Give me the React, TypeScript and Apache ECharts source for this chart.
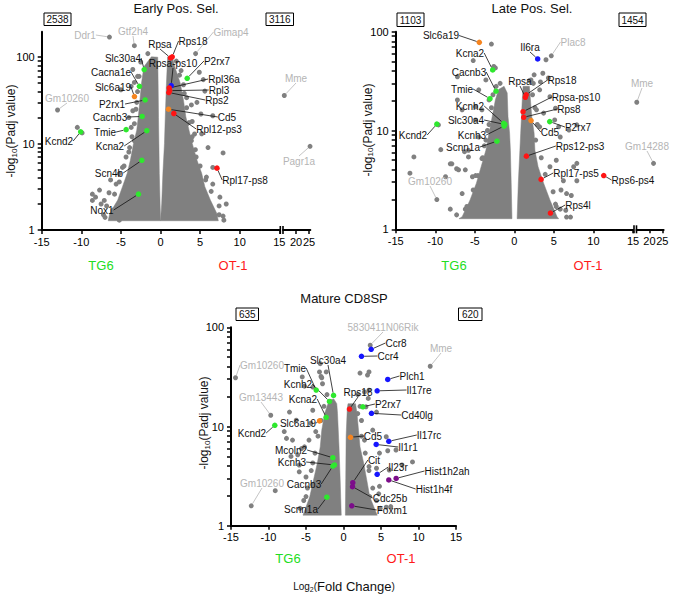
import React, { useEffect, useRef } from 'react';
import * as echarts from 'echarts';

type P = [number, number];

const FONT = '"Liberation Sans", Arial, Helvetica, sans-serif';
const GRAY = '#808080';
const LABEL_GRAY = '#b5b5b5';
const COLORS: Record<string, string> = {
  green: '#2ee82e',
  red: '#ff1414',
  orange: '#f5841f',
  blue: '#1515ff',
  purple: '#7c0c8a',
};

// ---------- shared tick labels ----------
const xTicksFar = [20, 25];
const yMajor = [1, 10, 100];

// ================= Early Pos. Sel. =================
const earlyCoreLeft: P[] = [[-6.6, 1.28], [-6.4, 1.56], [-5.4, 2.22], [-4.8, 3.17], [-4.2, 4.53], [-3.8, 6.45], [-3.4, 10.1], [-3.0, 14.3], [-2.8, 20.4], [-2.6, 31.8], [-2.4, 49.9], [-2.1, 77.6], [-1.15, 101], [-0.35, 100], [-0.3, 50], [-0.25, 20], [-0.2, 10], [-0.15, 4.5], [-0.05, 2], [0, 1.28]];
const earlyCoreRight: P[] = [[0, 1.28], [0.15, 2], [0.3, 4.5], [0.5, 10], [0.6, 20], [0.75, 50], [0.9, 101], [1.5, 101], [1.8, 77.6], [2.5, 49.9], [2.9, 31.8], [3.2, 20.4], [3.6, 14.3], [4.0, 10.1], [4.6, 6.45], [5.2, 4.53], [5.6, 3.17], [6.3, 2.22], [7.1, 1.56], [7.3, 1.28]];
const earlyGray: P[] = [
  [-10.5, 15.4], [-9.9, 13.3], [-3.5, 72], [-3.3, 51], [-5.0, 42], [-3.7, 46],
  [-8.2, 2.4], [-7.7, 2.9], [-7.1, 2.2], [-6.5, 2.7], [-5.6, 3.4], [-5.2, 4.5], [-4.35, 7], [-3.9, 9], [-4.8, 5.3], [-6.3, 3.8], [-8.6, 2.2], [-7.5, 2.0], [-3.7, 15.4], [-3.5, 24], [-3.3, 10.8], [-6.0, 1.7], [-5.2, 1.3], [-4.4, 2.2], [-8.6, 2.6], [-3.0, 30], [-2.9, 60], [-4.0, 20], [-6.0, 1.4], [-7.2, 1.5],
  [-4.0, 8], [-3.6, 12], [-3.3, 17], [-3.1, 25], [-2.9, 40], [-2.7, 60], [-4.6, 5.5], [-5.2, 3.6], [-5.8, 2.6], [-6.8, 1.9], [-7.0, 1.4], [-2.5, 88], [-1.6, 110],
  [7.9, 7.8], [6.6, 5.3], [4.5, 7], [5.8, 4.1], [6.6, 3.4], [7.5, 2.4], [8.3, 2.0], [5.0, 2.9], [5.4, 2.0], [3.9, 10.8], [3.3, 16.8], [4.3, 12.9], [6.2, 1.7], [5.0, 1.4], [4.9, 67], [5.4, 55], [3.3, 34], [6.6, 21], [5.1, 22], [4.0, 18], [5.6, 40.5], [2.6, 70], [3.9, 28], [4.6, 30], [2.9, 48], [7.4, 1.5], [8.0, 1.3], [6.0, 9], [5.2, 13],
  [4.4, 8.5], [4.0, 12], [3.6, 17.5], [3.3, 26], [3.0, 38], [2.4, 62], [5.0, 5.5], [5.7, 3.8], [6.4, 2.8], [7.4, 1.9], [7.9, 1.45], [2.0, 90],
];
const earlyGenes = ['Rpsa', 'Rps18', 'Rpsa-ps10', 'P2rx7', 'Rpl36a', 'Rpl3', 'Rps2', 'Cd5', 'Rpl12-ps3', 'Rpl17-ps8', 'Slc30a4', 'Cacna1e', 'Slc6a19', 'P2rx1', 'Cacnb3', 'Tmie', 'Kcna2', 'Kcnd2', 'Scn4b', 'Nox1'];
const earlyFC = [1.27, 1.48, 1.35, 3.37, 1.1, 1.15, 1.05, 1.01, 1.68, 7.13, -2.06, -2.66, -3.29, -1.94, -2.32, -4.34, -1.73, -10.08, -2.36, -2.78];
const earlyPadj = [98, 101, 47, 57, 44, 41, 39, 25, 22.3, 5.2, 72, 46, 35, 32, 20.6, 14.5, 14.1, 13.7, 6.4, 2.6];
const earlyGroup = ['red', 'red', 'blue', 'green', 'red', 'red', 'red', 'orange', 'red', 'red', 'green', 'green', 'orange', 'green', 'green', 'green', 'green', 'green', 'green', 'green'];
const earlyGrayGenes = ['Ddr1', 'Gtf2h4', 'Gimap4', 'Gm10260'];
const earlyGrayFC = [-6.45, -3.3, 4.43, -13.0];
const earlyGrayPadj = [171, 136, 110, 24.5];
const earlyFarGenes = ['Mme', 'Pagr1a'];
const earlyFarFC = [15.5, 25.4];
const earlyFarPadj = [36, 9.3];

// ================= Late Pos. Sel. =================
const lateCoreLeft: P[] = [[-7, 1.28], [-6.6, 1.34], [-5.6, 1.98], [-4.8, 2.93], [-4.2, 4.3], [-3.6, 6.3], [-3.2, 9.4], [-2.8, 13.8], [-2.4, 20.4], [-2.0, 26], [-1.3, 28], [-0.9, 24], [-0.8, 13.8], [-0.6, 9.4], [-0.5, 6.3], [-0.4, 3], [-0.3, 1.28]];
const lateCoreRight: P[] = [[0.35, 1.28], [0.5, 2.93], [0.7, 6.3], [0.8, 9.4], [0.9, 13.8], [1.0, 20.4], [1.1, 28], [1.9, 28], [2.2, 13.8], [2.5, 9.4], [2.6, 6.3], [3.0, 4.3], [3.7, 2.93], [4.5, 1.98], [5.4, 1.34], [5.6, 1.28]];
const lateGray: P[] = [
  [-6.6, 16.2], [-7.9, 4.6], [-7.05, 4.0], [-5.8, 6.3], [-5.3, 3.4], [-8.7, 3.4], [-6.6, 2.3], [-4.5, 8.6], [-4.9, 12.8], [-4.1, 16.2], [-3.2, 20.4], [-2.6, 44.5], [-3.6, 32.5], [-2.9, 75], [-5.2, 51], [-2.4, 43], [-7.2, 35], [-4.5, 25.8], [-7.2, 20.4], [-4.9, 17.4], [-9.6, 11.4], [-8.1, 4.6], [-7.3, 4.1], [-6.2, 4.0], [-8.1, 1.6], [-6.2, 1.6], [-4.9, 3.5], [-4.1, 5.2], [-5.8, 5.4], [-12.7, 5.4], [-13.2, 3.7], [-6.3, 6.1], [-9.3, 6.4], [-3.4, 10], [-3.8, 7], [-4.6, 2.4], [-5.0, 1.8],
  [-3.6, 8], [-3.2, 11.5], [-2.9, 17], [-2.7, 23], [-4.0, 5.3], [-4.6, 3.5], [-5.2, 2.5], [-6.0, 1.7], [-7.3, 1.4], [-1.8, 30], [-2.3, 28],
  [4.5, 22], [5.1, 12.8], [5.8, 8.6], [2.8, 16.2], [3.2, 10.9], [5.3, 5], [4.5, 4.3], [6.2, 3.1], [7.5, 4.3], [6.6, 2.3], [5.3, 1.7], [7.9, 3.1], [2.1, 32.5], [3.6, 38], [3.2, 25.8], [2.5, 36.6], [3.3, 31], [4.3, 34], [3.7, 15], [5.2, 16.8], [5.6, 10.9], [6.9, 10.1], [7.9, 11.4], [5.9, 2.5], [7.2, 2.2], [6.6, 1.33], [5.2, 1.8], [7.9, 4.65], [6.5, 1.56], [7.1, 1.33], [4.0, 52],
  [2.7, 8], [2.9, 11.5], [2.6, 17], [2.3, 23], [3.4, 5.3], [3.9, 3.6], [4.9, 2.4], [5.8, 1.6], [2.4, 30], [1.9, 32],
];
const lateGenes = ['Slc6a19', 'Kcna2', 'Cacnb3', 'Tmie', 'Kcnh2', 'Slc30a4', 'Kcnh3', 'Scnn1a', 'Kcnd2', 'Il6ra', 'Rpsa', 'Rps18', 'Rpsa-ps10', 'Rps8', 'Cd5', 'P2rx7', 'Rps12-ps3', 'Rpl17-ps5', 'Rps6-ps4', 'Rps4l'];
const lateFC = [-4.43, -2.74, -2.32, -3.08, -1.35, -1.2, -1.3, -2.2, -9.8, 2.95, 1.39, 1.5, 1.1, 1.18, 2.11, 4.47, 1.52, 3.38, 11.3, 4.56];
const latePadj = [78, 41, 25, 21, 11.8, 11.5, 11.1, 7.8, 11.6, 53, 21.7, 23, 15.5, 13.6, 12.6, 12.3, 5.5, 3.2, 3.5, 1.46];
const lateGroup = ['orange', 'green', 'green', 'green', 'green', 'green', 'green', 'green', 'green', 'blue', 'red', 'red', 'red', 'red', 'orange', 'green', 'red', 'red', 'red', 'red'];
const lateGrayGenes = ['Gm10260', 'Plac8'];
const lateGrayFC = [-9.8, 4.67];
const lateGrayPadj = [2.0, 57];
const lateFarGenes = ['Mme', 'Gm14288'];
const lateFarFC = [15.1, 21.6];
const lateFarPadj = [19.3, 4.65];

// ================= Mature CD8SP =================
const matureCoreLeft: P[] = [[-5.4, 1.28], [-4.5, 1.96], [-4.0, 2.9], [-3.5, 4.25], [-3.1, 6.25], [-2.9, 9.2], [-2.5, 13.6], [-1.9, 18.5], [-1.3, 19], [-0.9, 17], [-0.8, 13.6], [-0.6, 6.25], [-0.45, 3], [-0.3, 1.28]];
const matureCoreRight: P[] = [[0.25, 1.28], [0.3, 3], [0.35, 8], [0.5, 15], [0.6, 17], [1.6, 17], [1.8, 13.6], [2.0, 9.2], [2.2, 6.25], [2.7, 4.25], [3.1, 2.9], [3.5, 1.96], [4.4, 1.33], [4.5, 1.28]];
const matureGray: P[] = [
  [-5.5, 31.6], [-3.2, 35.5], [-2.9, 31], [-5.2, 25.5], [-4.1, 25], [-7.2, 14], [-6.3, 11.6], [-7.9, 8.9], [-7.6, 7.6], [-6.8, 7.3], [-5.6, 6.0], [-7.0, 5.0], [-5.9, 4.1], [-5.0, 3.1], [-4.1, 2.6], [-5.3, 1.8], [-4.1, 1.45], [-9.1, 2.26], [-3.1, 43], [-3.0, 32], [-2.8, 27], [-4.1, 14.6], [-4.35, 10.8], [-3.7, 8.9], [-4.6, 7.3], [-5.2, 6.25], [-6.1, 5.2], [-5.9, 3.5], [-4.1, 4.3], [-3.2, 2.9], [-5.0, 1.97], [-3.9, 1.56], [-2.3, 35.5],
  [-3.4, 8], [-3.0, 11.5], [-2.6, 16], [-3.8, 5.4], [-4.3, 3.6], [-4.8, 2.4], [-5.8, 1.5], [-2.2, 21],
  [3.4, 35.5], [2.2, 34.6], [3.4, 23.2], [3.3, 19.2], [4.4, 14], [5.7, 7.9], [5.9, 5.7], [7.0, 5.8], [9.2, 4.4], [7.8, 4.1], [4.4, 3.8], [4.7, 2.1], [4.4, 1.8], [5.7, 1.54], [3.0, 1.66], [3.5, 1.97], [3.2, 33], [2.8, 22.3], [3.0, 15.8], [1.9, 13.5], [3.9, 9.2], [2.8, 7.3], [4.8, 5.4], [3.4, 3.95], [6.1, 3.65], [4.8, 2.5], [3.0, 2.1], [6.3, 1.56],
  [2.4, 8], [2.4, 11.5], [2.2, 16], [2.9, 5.4], [3.4, 3.6], [3.9, 2.4], [4.9, 1.5], [1.9, 21],
];
const matureGenes = ['Ccr8', 'Ccr4', 'Plch1', 'Il17re', 'Cd40lg', 'Il17rc', 'Il1r1', 'Il23r', 'Hist1h2ah', 'Hist1h4f', 'Cit', 'Cdc25b', 'Foxm1', 'Rps18', 'P2rx7', 'Cd5', 'Slc30a4', 'Tmie', 'Kcnh2', 'Kcna2', 'Slc6a19', 'Kcnd2', 'Mcoln2', 'Kcnh3', 'Cacnb3', 'Scnn1a'];
const matureFC = [3.69, 2.4, 5.9, 4.49, 3.73, 6.04, 4.36, 4.49, 7.02, 6.04, 1.24, 1.2, 1.1, 0.8, 2.58, 0.93, -1.33, -3.64, -1.87, -2.31, -3.2, -9.16, -1.42, -1.2, -1.42, -2.22];
const maturePadj = [60, 51, 29.8, 22.9, 13.6, 7.1, 6.6, 3.3, 3.0, 2.9, 2.72, 2.48, 1.59, 15, 15.8, 7.8, 20.6, 23.3, 17.9, 12.4, 11.4, 10.3, 4.85, 4.1, 4.0, 1.94];
const matureGroup = ['blue', 'blue', 'blue', 'blue', 'blue', 'blue', 'blue', 'blue', 'purple', 'purple', 'purple', 'purple', 'purple', 'red', 'green', 'orange', 'green', 'green', 'green', 'green', 'orange', 'green', 'green', 'green', 'green', 'green'];
const matureGrayGenes = ['5830411N06Rik', 'Mme', 'Gm10260', 'Gm13443', 'Gm10260'];
const matureGrayFC = [3.56, 11.56, -14.4, -9.7, -12.3];
const matureGrayPadj = [66, 40.5, 31, 13.0, 1.59];

// ---------- layout (pixels) ----------
const GRIDS = [
  { left: 41.7, top: 31.7, width: 237.6, height: 198.3 }, // early
  { left: 283, top: 31.7, width: 27.3, height: 198.3 }, // early, after break
  { left: 395.7, top: 31.7, width: 237.3, height: 197.6 }, // late
  { left: 636.5, top: 31.7, width: 27.1, height: 197.6 }, // late, after break
  { left: 231, top: 327.3, width: 225, height: 198.5 }, // mature
];
const Y_MAX = [2.295, 2.295, 2, 2, 2];

// label anchor positions (pixel centers), aligned with the gene arrays
const earlyLabelAt: P[] = [[160, 44], [193, 41], [173, 63], [217, 61], [224, 79], [219, 90], [217, 100], [227, 117], [219, 129], [245, 180], [123, 58], [111, 72], [113, 87], [112, 104], [110, 117], [105, 132], [110, 146], [59, 141], [109, 173], [102, 210]];
const earlyGrayLabelAt: P[] = [[85, 35], [133, 31], [231, 32], [67, 98]];
const earlyFarLabelAt: P[] = [[296, 78], [299, 161]];
const lateLabelAt: P[] = [[441, 35.5], [470, 53], [469, 72], [462, 89], [470, 106], [466, 120], [472, 135], [463, 147], [413, 135], [530, 47], [520, 81], [562, 80], [576, 97], [569, 109], [550, 132], [578, 127], [580, 146], [576, 173], [633, 180], [578, 205]];
const lateGrayLabelAt: P[] = [[430, 181], [573, 42]];
const lateFarLabelAt: P[] = [[642, 83], [647, 146]];
const matureLabelAt: P[] = [[396, 343], [388, 356], [412, 376], [419, 390], [417, 415], [429, 435], [408, 447], [398, 467], [447, 471], [434, 489], [374, 460], [390, 498], [392, 510], [358, 392], [388, 404], [373, 436], [328, 360], [295, 368], [298, 384], [303, 399], [298, 423], [252, 433], [291, 450], [292, 462], [304, 484], [301, 509]];
const matureGrayLabelAt: P[] = [[383, 327], [441, 348], [262, 365], [261, 397], [262, 483]];

const lg = (v: number) => Math.log10(v);

function buildOption() {
  const series: any[] = [];

  const addCore = (axis: number, poly: P[]) =>
    series.push({
      type: 'custom',
      xAxisIndex: axis,
      yAxisIndex: axis,
      silent: true,
      z: 1,
      clip: false,
      data: [[0, 0]],
      renderItem: (_p: any, api: any) => ({
        type: 'polygon',
        shape: { points: poly.map((d) => api.coord([d[0], lg(d[1])])) },
        style: { fill: GRAY, stroke: GRAY, lineWidth: 0.5, lineJoin: 'round' },
      }),
    });

  const addGray = (axis: number, pts: P[]) =>
    series.push({
      type: 'scatter',
      xAxisIndex: axis,
      yAxisIndex: axis,
      z: 2,
      clip: false,
      symbolSize: 5,
      silent: true,
      itemStyle: { color: GRAY, opacity: 1 },
      data: pts.map((d) => [d[0], lg(d[1])]),
    });

  const addLabeled = (
    axis: number,
    names: string[],
    fc: number[],
    padj: number[],
    colors: string[],
    labelAt: P[],
    textColor: string,
    lineColor: string,
    z: number,
    size: number
  ) =>
    series.push({
      type: 'scatter',
      xAxisIndex: axis,
      yAxisIndex: axis,
      z,
      clip: false,
      symbolSize: size,
      silent: true,
      data: names.map((n, i) => ({
        name: n,
        value: [fc[i], lg(padj[i])],
        itemStyle: { color: colors[i], opacity: 1 },
      })),
      label: {
        show: true,
        formatter: '{b}',
        fontSize: 10,
        fontFamily: FONT,
        color: textColor,
      },
      labelLine: { show: true, smooth: false, lineStyle: { color: lineColor, width: 0.8 } },
      labelLayout: (p: any) => ({
        x: labelAt[p.dataIndex][0],
        y: labelAt[p.dataIndex][1],
        align: 'center',
        verticalAlign: 'middle',
      }),
    });

  // early
  addCore(0, earlyCoreLeft);
  addCore(0, earlyCoreRight);
  addGray(0, earlyGray);
  addLabeled(0, earlyGrayGenes, earlyGrayFC, earlyGrayPadj, earlyGrayGenes.map(() => GRAY), earlyGrayLabelAt, LABEL_GRAY, LABEL_GRAY, 3, 5);
  addLabeled(1, earlyFarGenes, earlyFarFC, earlyFarPadj, earlyFarGenes.map(() => GRAY), earlyFarLabelAt, LABEL_GRAY, LABEL_GRAY, 3, 5);
  addLabeled(0, earlyGenes, earlyFC, earlyPadj, earlyGroup.map((g) => COLORS[g]), earlyLabelAt, '#111', '#111', 4, 5.5);
  // late
  addCore(2, lateCoreLeft);
  addCore(2, lateCoreRight);
  addGray(2, lateGray);
  addLabeled(2, lateGrayGenes, lateGrayFC, lateGrayPadj, lateGrayGenes.map(() => GRAY), lateGrayLabelAt, LABEL_GRAY, LABEL_GRAY, 3, 5);
  addLabeled(3, lateFarGenes, lateFarFC, lateFarPadj, lateFarGenes.map(() => GRAY), lateFarLabelAt, LABEL_GRAY, LABEL_GRAY, 3, 5);
  addLabeled(2, lateGenes, lateFC, latePadj, lateGroup.map((g) => COLORS[g]), lateLabelAt, '#111', '#111', 4, 5.5);
  // mature
  addCore(4, matureCoreLeft);
  addCore(4, matureCoreRight);
  addGray(4, matureGray);
  addLabeled(4, matureGrayGenes, matureGrayFC, matureGrayPadj, matureGrayGenes.map(() => GRAY), matureGrayLabelAt, LABEL_GRAY, LABEL_GRAY, 3, 5);
  addLabeled(4, matureGenes, matureFC, maturePadj, matureGroup.map((g) => COLORS[g]), matureLabelAt, '#111', '#111', 4, 5.5);

  const isFar = (i: number) => i === 1 || i === 3;
  const axisLine = { show: true, onZero: false, lineStyle: { color: '#000', width: 2 } };
  const tickFont = { fontSize: 11, fontFamily: FONT, color: '#000' };

  const xAxis = GRIDS.map((_, i) =>
    isFar(i)
      ? {
          type: 'value', gridIndex: i, min: 15, max: 25.5,
          axisLine,
          axisTick: { show: true, length: 4, customValues: xTicksFar, lineStyle: { color: '#000', width: 1.5 } },
          axisLabel: { ...tickFont, margin: 6, customValues: xTicksFar },
          splitLine: { show: false },
        }
      : {
          type: 'value', gridIndex: i, min: -15, max: 15, interval: 5,
          axisLine,
          axisTick: { show: true, length: 4, lineStyle: { color: '#000', width: 1.5 } },
          axisLabel: { ...tickFont, margin: 6 },
          splitLine: { show: false },
        }
  );

  const yAxis = GRIDS.map((_, i) => {
    const ymax = Y_MAX[i];
    const tickVals: number[] = [];
    for (const m of yMajor) for (let k = 1; k <= 9; k++) {
      const v = lg(m * k);
      if (v <= ymax + 1e-9) tickVals.push(v);
    }
    if (isFar(i)) return { type: 'value', gridIndex: i, min: 0, max: ymax, show: false };
    return {
      type: 'value', gridIndex: i, min: 0, max: ymax,
      axisLine,
      axisTick: { show: true, length: 4, customValues: tickVals, lineStyle: { color: '#000', width: 1.5 } },
      axisLabel: {
        ...tickFont, margin: 7,
        customValues: yMajor.map(lg).filter((v) => v <= ymax + 1e-9),
        formatter: (v: number) => String(Math.round(Math.pow(10, v))),
      },
      splitLine: { show: false },
    };
  });

  const graphic: any[] = [];
  const text = (x: number, y: number, t: string, size: number, color = '#111', extra: any = {}) =>
    graphic.push({
      type: 'text', x, y, silent: true, z: 10,
      style: { text: t, fontSize: size, fontFamily: FONT, fill: color, align: 'center', verticalAlign: 'middle', ...extra.style },
      ...extra.el,
    });
  const box = (x: number, y: number, w: number, h: number, t: string) => {
    graphic.push({ type: 'rect', silent: true, z: 10, shape: { x, y, width: w, height: h }, style: { fill: '#fff', stroke: '#000', lineWidth: 1 } });
    text(x + w / 2, y + h / 2 + 0.5, t, 10);
  };

  text(176, 8, 'Early Pos. Sel.', 13);
  text(532, 8, 'Late Pos. Sel.', 13);
  text(344, 298, 'Mature CD8SP', 13);
  box(44, 13, 27, 12.5, '2538');
  box(266, 13, 27.5, 12.5, '3116');
  box(397, 13, 27, 13.5, '1103');
  box(619, 13, 27, 13.5, '1454');
  box(236, 308, 22.5, 12.5, '635');
  box(458.5, 308, 23.5, 12.5, '620');

  const green = '#22dd22';
  const red = '#ff1a1a';
  text(101, 265, 'TG6', 13, green);
  text(233, 265, 'OT-1', 13, red);
  text(454, 265, 'TG6', 13, green);
  text(588, 265, 'OT-1', 13, red);
  text(288, 558, 'TG6', 13, green);
  text(401, 558, 'OT-1', 13, red);

  const yTitle = (x: number, y: number) =>
    text(x, y, '-log{s|10}(Padj value)', 12, '#111', {
      el: { rotation: Math.PI / 2 },
      style: { rich: { s: { fontSize: 8, fontFamily: FONT, fill: '#111', padding: [6, 0, 0, 0] } } },
    });
  yTitle(11, 131);
  yTitle(367.5, 130);
  yTitle(204, 423);

  text(344, 586, '{a|Log}{s|2}{a|(}Fold Change{a|)}', 13, '#111', {
    style: {
      rich: {
        a: { fontSize: 10, fontFamily: FONT, fill: '#111' },
        s: { fontSize: 7, fontFamily: FONT, fill: '#111', padding: [6, 0, 0, 0] },
      },
    },
  });

  // axis break marks, at the ends of the two x-axis segments
  const breakMark = (mainIdx: number, farIdx: number) => {
    const g = GRIDS[mainIdx];
    const f = GRIDS[farIdx];
    const yAxisPx = g.top + g.height;
    [g.left + g.width + 1, f.left].forEach((bx) =>
      graphic.push({ type: 'rect', silent: true, z: 10, shape: { x: bx - 0.8, y: yAxisPx - 4, width: 1.6, height: 8 }, style: { fill: '#000' } })
    );
  };
  breakMark(0, 1);
  breakMark(2, 3);

  return {
    animation: false,
    backgroundColor: '#fff',
    textStyle: { fontFamily: FONT },
    grid: GRIDS.map((g) => ({ ...g, containLabel: false, outerBoundsMode: 'none' })),
    xAxis,
    yAxis,
    series,
    graphic,
  };
}

export default function App() {
  const ref = useRef<HTMLDivElement>(null);
  useEffect(() => {
    if (!ref.current) return;
    const chart = echarts.init(ref.current, null, { renderer: 'svg' });
    chart.setOption(buildOption() as any);
    return () => chart.dispose();
  }, []);
  return (
    <div
      ref={ref}
      style={{ position: 'fixed', left: 0, top: 0, width: 675, height: 599, background: '#fff' }}
    />
  );
}
